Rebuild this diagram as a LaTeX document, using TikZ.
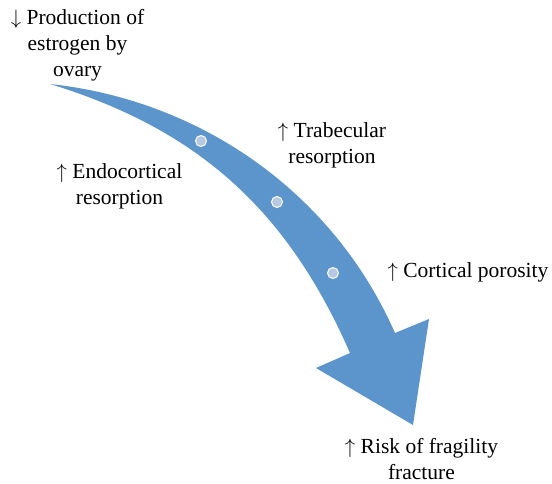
\documentclass[tikz,border=0pt]{standalone}
\usepackage{fontspec}
\setmainfont{Liberation Serif}
\usetikzlibrary{positioning,calc}
\definecolor{arrowblue}{RGB}{91,149,203}
\definecolor{dotblue}{RGB}{182,200,228}
\tikzset{
  note/.style={align=center, inner sep=0pt, text=black,
    font=\fontsize{21.5}{26}\selectfont},
  bentarrow/.style={fill=arrowblue, draw=none},
  stepdot/.style={circle, fill=dotblue, draw=white, line width=1pt,
    minimum size=11pt, inner sep=0pt}
}

\begin{document}
\begin{tikzpicture}[x=1pt,y=-1pt]
    \useasboundingbox (0,0) rectangle (552,483);

    % the bent arrow
    \coordinate (tail) at (50,84);
    \coordinate (outer) at (395,333);
    \coordinate (inner) at (350,353);
    \coordinate (wingR) at (429,319);
    \coordinate (wingL) at (316,368);
    \coordinate (tip) at (413,425);
    \fill[bentarrow] (tail) .. controls (200,100) and (333,192) .. (outer)
        -- (wingR) -- (tip) -- (wingL) -- (inner)
        .. controls (287,209) and (197,129) .. (tail) -- cycle;

    \node[stepdot] (d1) at (201,141) {};
    \node[stepdot] (d2) at (277,202) {};
    \node[stepdot] (d3) at (333,273) {};

    \node[note] (ovary) at (77.5,45) {$\downarrow$ Production of\\estrogen by\\ovary};
    \node[note] (trab) at (332,145) {$\uparrow$ Trabecular\\resorption};
    \node[note] (endo) at (119.5,186) {$\uparrow$ Endocortical\\resorption};
    \node[note] (cort) at (468,272) {$\uparrow$ Cortical porosity};
    \node[note] (risk) at (421.5,459) {$\uparrow$ Risk of fragility\\fracture};

\end{tikzpicture}
\end{document}
